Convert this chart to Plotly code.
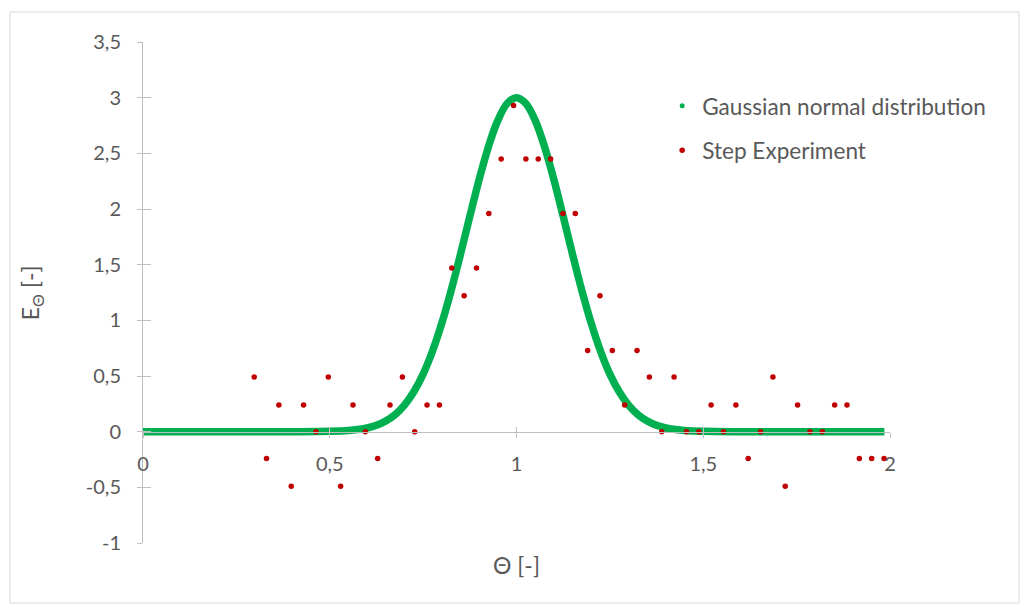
import plotly.graph_objects as go

# ---- data ----
theta_step = [0.2977, 0.3307, 0.3638, 0.3969, 0.4299, 0.4630, 0.4961, 0.5291, 0.5622, 0.5953,
              0.6283, 0.6614, 0.6945, 0.7275, 0.7606, 0.7937, 0.8267, 0.8598, 0.8929, 0.9259,
              0.9590, 0.9921, 1.0251, 1.0582, 1.0913, 1.1243, 1.1574, 1.1905, 1.2235, 1.2566,
              1.2897, 1.3227, 1.3558, 1.3889, 1.4219, 1.4550, 1.4881, 1.5211, 1.5542, 1.5873,
              1.6203, 1.6534, 1.6865, 1.7195, 1.7526, 1.7857, 1.8187, 1.8518, 1.8849, 1.9179,
              1.9510, 1.9841]
e_step = [0.49, -0.24, 0.24, -0.49, 0.24, 0.00, 0.49, -0.49, 0.24, 0.00,
          -0.24, 0.24, 0.49, 0.00, 0.24, 0.24, 1.47, 1.22, 1.47, 1.96,
          2.45, 2.93, 2.45, 2.45, 2.45, 1.96, 1.96, 0.73, 1.22, 0.73,
          0.24, 0.73, 0.49, 0.00, 0.49, 0.00, 0.00, 0.24, 0.00, 0.24,
          -0.24, 0.00, 0.49, -0.49, 0.24, 0.00, 0.00, 0.24, 0.24, -0.24,
          -0.24, -0.24]

theta_gauss = [0.0, 0.1, 0.2, 0.3, 0.4, 0.5, 0.55, 0.575, 0.6, 0.625, 0.65, 0.675, 0.7, 0.725,
               0.75, 0.775, 0.8, 0.825, 0.85, 0.875, 0.9, 0.925, 0.95, 0.975, 1.0,
               1.025, 1.05, 1.075, 1.1, 1.125, 1.15, 1.175, 1.2, 1.225, 1.25, 1.275,
               1.3, 1.325, 1.35, 1.375, 1.4, 1.425, 1.45, 1.5, 1.6, 1.7, 1.8, 1.9, 1.985]
e_gauss = [0.0, 0.0, 0.0, 0.0, 0.0, 0.003, 0.010, 0.019, 0.033, 0.057, 0.096, 0.154, 0.239, 0.358,
           0.517, 0.722, 0.974, 1.268, 1.593, 1.933, 2.265, 2.561, 2.796, 2.948, 3.0,
           2.948, 2.796, 2.561, 2.265, 1.933, 1.593, 1.268, 0.974, 0.722, 0.517, 0.358,
           0.239, 0.154, 0.096, 0.057, 0.033, 0.019, 0.010, 0.003, 0.0, 0.0, 0.0, 0.0, 0.0]

x_tickvals = [0, 0.5, 1, 1.5, 2]
x_ticktext = ["0", "0,5", "1", "1,5", "2"]
y_tickvals = [-1, -0.5, 0, 0.5, 1, 1.5, 2, 2.5, 3, 3.5]
y_ticktext = ["-1", "-0,5", "0", "0,5", "1", "1,5", "2", "2,5", "3", "3,5"]

GREEN = "#00B050"
RED = "#C00000"
AXIS = "#BFBFBF"
TXT = "#595959"
FONT = "Lato"
TICK_SIZE = 20
TITLE_SIZE = 23
LEGEND_SIZE = 22.6

fig = go.Figure()
fig.add_trace(go.Scatter(x=theta_gauss, y=e_gauss, mode="lines",
                         line=dict(color=GREEN, width=7.5, shape="spline"),
                         showlegend=False, hoverinfo="skip"))
fig.add_trace(go.Scatter(x=[None], y=[None], mode="markers", name="Gaussian normal distribution",
                         marker=dict(color=GREEN, size=5), legendgroup="g"))
fig.add_trace(go.Scatter(x=theta_step, y=e_step, mode="markers", name="Step Experiment",
                         marker=dict(color=RED, size=5.5), legendgroup="s"))
# invisible helper trace for the overlaid tick axes
fig.add_trace(go.Scatter(x=[None], y=[None], xaxis="x2", yaxis="y2", showlegend=False,
                         hoverinfo="skip"))

y0_pos = (0 - (-1)) / 4.5

fig.update_layout(
    width=1021, height=605,
    margin=dict(l=143, r=131, t=42, b=62),
    paper_bgcolor="white", plot_bgcolor="white",
    font=dict(family=FONT, size=TICK_SIZE, color=TXT),
    xaxis=dict(range=[0, 2], anchor="free", position=y0_pos,
               tickvals=x_tickvals, ticktext=x_ticktext,
               showgrid=False, zeroline=False, showline=True, linecolor=AXIS, linewidth=1,
               ticks="outside", ticklen=5, tickcolor=AXIS, ticklabelstandoff=9,
               tickfont=dict(size=TICK_SIZE, color=TXT)),
    yaxis=dict(range=[-1, 3.5], tickvals=y_tickvals, ticktext=y_ticktext,
               showgrid=False, zeroline=False, showline=True, linecolor=AXIS, linewidth=1,
               ticks="outside", ticklen=5, tickcolor=AXIS, ticklabelstandoff=12,
               tickfont=dict(size=TICK_SIZE, color=TXT)),
    xaxis2=dict(range=[0, 2], overlaying="x", anchor="free", position=y0_pos,
                tickvals=x_tickvals, showticklabels=False, showgrid=False, zeroline=False,
                showline=False, ticks="inside", ticklen=5, tickcolor=AXIS),
    yaxis2=dict(range=[-1, 3.5], overlaying="y", anchor="x", side="left",
                tickvals=y_tickvals, showticklabels=False, showgrid=False, zeroline=False,
                showline=False, ticks="inside", ticklen=8, tickcolor=AXIS),
    legend=dict(x=0.695, y=0.915, xanchor="left", yanchor="top",
                bgcolor="rgba(0,0,0,0)", font=dict(size=LEGEND_SIZE, color=TXT),
                tracegroupgap=12, traceorder="grouped"),
    annotations=[
        dict(text="Θ [-]", xref="paper", yref="paper", x=0.5, y=-0.044,
             xanchor="center", yanchor="middle", showarrow=False,
             font=dict(size=TITLE_SIZE, color=TXT)),
        dict(text="E<sub>Θ</sub> [-]", xref="paper", yref="paper", x=-0.149, y=0.5,
             xanchor="center", yanchor="middle", textangle=-90, showarrow=False,
             font=dict(size=TITLE_SIZE, color=TXT)),
    ],
    shapes=[dict(type="rect", xref="paper", yref="paper",
                 x0=-0.178, x1=1.1727, y0=-0.1198, y1=1.06,
                 line=dict(color="#D9D9D9", width=1), fillcolor="rgba(0,0,0,0)", layer="below")],
)

fig.write_html("out.html", config={"displayModeBar": False},
               post_script="document.body.style.margin='0';document.body.style.padding='0';")
